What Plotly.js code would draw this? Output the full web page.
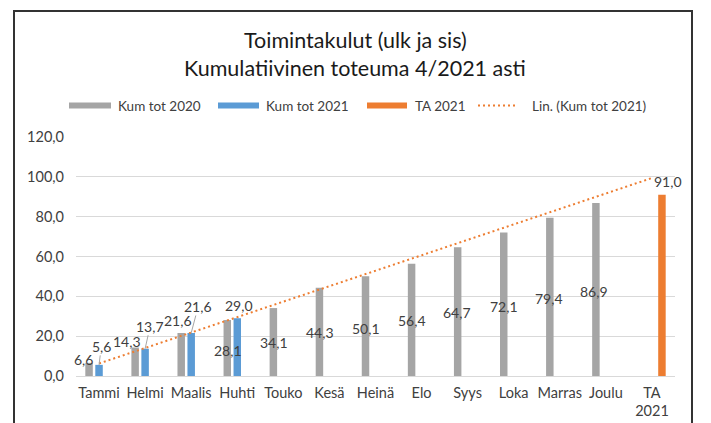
<!DOCTYPE html>
<html>
<head>
<meta charset="utf-8">
<script src="https://cdn.plot.ly/plotly-3.0.1.min.js"></script>
<style>html,body{margin:0;padding:0;background:#fff;}#chart{width:711px;height:423px;}</style>
</head>
<body>
<div id="chart"></div>
<script>
// ---- data ----
const categories = ['Tammi','Helmi','Maalis','Huhti','Touko','Kesä','Heinä','Elo','Syys','Loka','Marras','Joulu','TA 2021'];
const tickLabels = ['Tammi','Helmi','Maalis','Huhti','Touko','Kesä','Heinä','Elo','Syys','Loka','Marras','Joulu','TA<br>2021'];
const kumTot2020 = [6.6,14.3,21.6,28.1,34.1,44.3,50.1,56.4,64.7,72.1,79.4,86.9,null];
const kumTot2021 = [5.6,13.7,21.6,29.0,null,null,null,null,null,null,null,null,null];
const ta2021 = [null,null,null,null,null,null,null,null,null,null,null,null,91.0];
const trendX = ['Tammi','TA 2021'];
const trendY = [6.3,99.4];
const seriesNames = ['Kum tot 2020','Kum tot 2021','TA 2021','Lin. (Kum tot 2021)'];
const titleLines = ['Toimintakulut (ulk ja sis)','Kumulatiivinen toteuma 4/2021 asti'];

// ---- styling / layout helpers ----
const FONT = 'Lato, "Open Sans", sans-serif';
const colors = ['#A5A5A5','#5B9BD5','#ED7D31','#ED7D31'];
const W = 711, H = 423;
const M = {l:76, r:36, t:137, b:47};
const PW = W - M.l - M.r, PH = H - M.t - M.b;
const px = x => (x - M.l) / PW;
const py = y => (H - M.b - y) / PH;
const fmt = v => v.toFixed(1).replace('.', ',');

// label pixel offsets (dx, dy downwards) relative to category centre / bar top
const grayOff = [[-16,-3],[-18.5,-6.5],[-13,-12.5],[-9,30.5],[-9.5,34.7],[-9.5,45],[-9.6,52],[-10,57],[-10.7,65.7],[-9.8,73.6],[-10.9,80.5],[-12,88.8]];
const blueOff = [[2.3,-18.5],[5,-22.5],[7,-26.5],[1.5,-13]];
const blueLeader = [true,true,true,false];
const taOff = [16,-13];

const traces = [
  {type:'bar', name:seriesNames[0], x:categories, y:kumTot2020, marker:{color:colors[0]}, hoverinfo:'y'},
  {type:'bar', name:seriesNames[1], x:categories, y:kumTot2021, marker:{color:colors[1]}, hoverinfo:'y'},
  {type:'bar', name:seriesNames[2], x:categories, y:ta2021, marker:{color:colors[2]}, hoverinfo:'y'},
  {type:'scatter', mode:'lines', name:seriesNames[3], x:trendX, y:trendY,
   line:{color:colors[3], width:2, dash:'2px,3px'}, hoverinfo:'skip'}
];

const labelFont = {family:FONT, size:14, color:'#404040'};
const annotations = [];
kumTot2020.forEach((v,i) => {
  if (v === null) return;
  annotations.push({x:categories[i], y:v, xref:'x', yref:'y', text:fmt(v), showarrow:false,
    xshift:grayOff[i][0], yshift:-grayOff[i][1], font:labelFont});
});
kumTot2021.forEach((v,i) => {
  if (v === null) return;
  if (blueLeader[i]) {
    annotations.push({x:categories[i], y:v, xref:'x', yref:'y', text:fmt(v), showarrow:true,
      arrowhead:0, arrowwidth:1, arrowcolor:'#A6A6A6', ax:blueOff[i][0], ay:blueOff[i][1],
      standoff:0, borderpad:0, font:labelFont});
  } else {
    annotations.push({x:categories[i], y:v, xref:'x', yref:'y', text:fmt(v), showarrow:false,
      xshift:blueOff[i][0], yshift:-blueOff[i][1], font:labelFont});
  }
});
ta2021.forEach((v,i) => {
  if (v === null) return;
  annotations.push({x:categories[i], y:v, xref:'x', yref:'y', text:fmt(v), showarrow:false,
    xshift:taOff[0], yshift:-taOff[1], font:labelFont});
});

// title lines
annotations.push({xref:'paper', yref:'paper', x:px(355), y:py(40), text:titleLines[0], showarrow:false,
  font:{family:FONT, size:21.5, color:'#1a1a1a'}, xanchor:'center', yanchor:'middle'});
annotations.push({xref:'paper', yref:'paper', x:px(355), y:py(68), text:titleLines[1], showarrow:false,
  font:{family:FONT, size:21.5, color:'#1a1a1a'}, xanchor:'center', yanchor:'middle'});

// custom legend
const shapes = [];
const legY = 105.5;
const legItems = [
  {x0:69, x1:111, tx:116, kind:'bar'},
  {x0:218, x1:259, tx:264, kind:'bar'},
  {x0:367, x1:407, tx:413, kind:'bar'},
  {x0:478, x1:516, tx:530, kind:'line'}
];
legItems.forEach((it,i) => {
  if (it.kind === 'bar') {
    shapes.push({type:'rect', xref:'paper', yref:'paper', x0:px(it.x0), x1:px(it.x1), y0:py(legY-3), y1:py(legY+3),
      fillcolor:colors[i], line:{width:0}});
  } else {
    shapes.push({type:'line', xref:'paper', yref:'paper', x0:px(it.x0), x1:px(it.x1), y0:py(legY), y1:py(legY),
      line:{color:colors[i], width:2, dash:'2px,3px'}});
  }
  annotations.push({xref:'paper', yref:'paper', x:px(it.tx), y:py(legY), text:seriesNames[i], showarrow:false,
    xanchor:'left', yanchor:'middle', font:{family:FONT, size:13.5, color:'#404040'}});
});

// outer frame
shapes.push({type:'rect', xref:'paper', yref:'paper', x0:px(14), x1:px(692), y0:py(440), y1:py(11),
  line:{color:'#333333', width:2}, fillcolor:'rgba(0,0,0,0)', layer:'above'});

const layout = {
  width:W, height:H, margin:M,
  paper_bgcolor:'#ffffff', plot_bgcolor:'#ffffff',
  separators:', ',
  showlegend:false,
  barmode:'group', bargap:0.35, bargroupgap:0.25,
  font:{family:FONT, size:14.5, color:'#404040'},
  xaxis:{type:'category', tickvals:categories, ticktext:tickLabels, showgrid:false, zeroline:false,
    showline:false, ticks:'', tickfont:{family:FONT, size:14.5, color:'#404040'}, range:[-0.5,12.5],
    ticklabelstandoff:6, fixedrange:true},
  yaxis:{range:[0,120], dtick:20, tickformat:'.1f', showgrid:true, gridcolor:'#D9D9D9', gridwidth:1,
    zeroline:true, zerolinecolor:'#D9D9D9', zerolinewidth:1, showline:false, ticks:'',
    tickfont:{family:FONT, size:14.5, color:'#404040'}, ticklabelstandoff:11, fixedrange:true},
  annotations:annotations,
  shapes:shapes
};

Plotly.newPlot('chart', traces, layout, {displayModeBar:false, staticPlot:true});
</script>
</body>
</html>
